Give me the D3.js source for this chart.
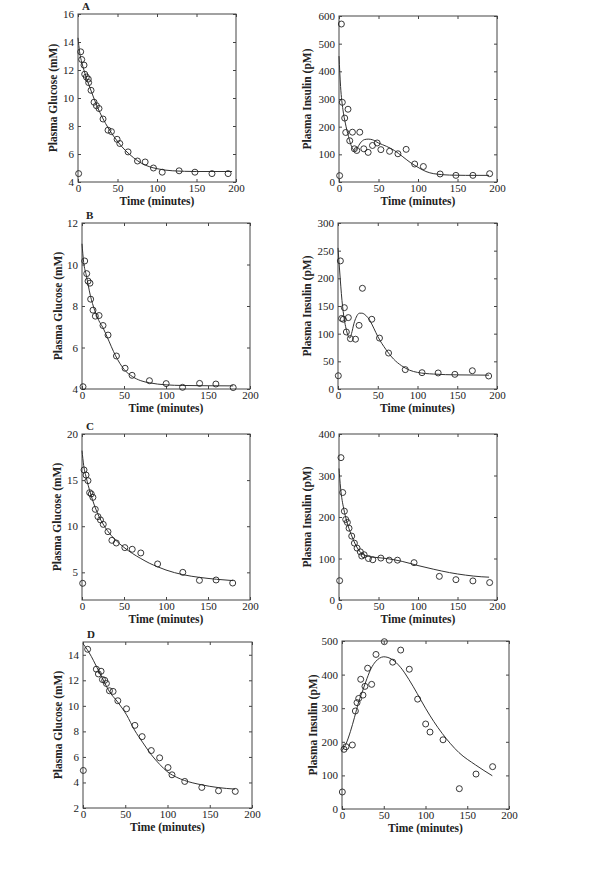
<!DOCTYPE html>
<html><head><meta charset="utf-8">
<script src="https://cdn.jsdelivr.net/npm/d3@7"></script>
<style>body{margin:0;background:#fff}svg{display:block}</style>
</head><body>
<svg id="c" width="600" height="878"></svg>
<script>
// ---- data: [time (min), value] ----
const timeTicks = [0, 50, 100, 150, 200];

const glucA_obs = [[0.8,4.6],[3.4,13.3],[4.7,12.75],[7.6,12.35],[8.5,11.7],[10.6,11.5],[13,11.35],[13.5,11.1],[16.5,10.55],[20.3,9.7],[23.3,9.45],[26.6,9.25],[31.7,8.5],[38,7.7],[42.3,7.6],[49.5,7.05],[52.9,6.75],[63.4,6.15],[75.3,5.5],[85,5.43],[95.5,5.0],[106.6,4.7],[128,4.8],[148,4.7],[169.6,4.6],[190,4.6]];
const glucA_fit = [[0,14.3],[2,13.3],[5,12.5],[10,11.55],[15,10.75],[20,10.0],[25,9.3],[30,8.7],[40,7.7],[50,6.9],[60,6.25],[70,5.75],[80,5.35],[90,5.1],[100,4.95],[120,4.8],[150,4.75],[195,4.75]];
const insA_obs = [[0.8,23],[3,571],[4.2,288],[7.2,231],[8.5,179],[11.4,263],[13.6,149],[17,180],[19.5,120],[22.5,114],[26.3,180],[31.4,120],[36.9,107],[42.4,132],[48.3,141],[53,117],[64,111],[74.6,102],[85,118],[95.8,65],[106.8,56],[128,29],[148,24],[169.5,24],[190.7,30]];
const insA_fit = [[0,455],[2,345],[5,261],[8,213],[12,165],[15,135],[18,117],[20,114],[23,123],[27,141],[32,153],[37,155],[42,153],[50,141],[60,129],[70,114],[80,93],[90,71],[100,53],[110,38],[120,30],[140,25],[160,24],[190,24]];

const glucB_obs = [[1.2,4.11],[3.2,10.17],[5.6,9.56],[7.2,9.2],[9.5,9.1],[10.3,8.33],[13.1,7.8],[15.9,7.51],[20.3,7.54],[25,7.06],[31,6.6],[41,5.59],[51.3,5.0],[59.6,4.66],[80.3,4.4],[100.2,4.26],[119.7,4.08],[140,4.27],[159.4,4.24],[180,4.07]];
const glucB_fit = [[0,11.0],[2,10.1],[5,9.5],[10,8.5],[15,7.8],[20,7.3],[25,6.95],[30,6.5],[40,5.6],[50,4.95],[60,4.6],[70,4.4],[80,4.3],[100,4.2],[120,4.17],[180,4.15]];
const insB_obs = [[0.4,24],[3,231.5],[4.6,127.5],[6.7,126],[8,147],[10.5,103],[13,129],[15.6,91],[22,90],[26.5,115],[30.7,182],[42.5,126],[52.2,92],[63.6,65],[84.6,35],[105.7,29.5],[126,29],[147,26.5],[169,33],[189.5,23.5]];
const insB_fit = [[0,255],[2,215],[5,160],[8,125],[10,110],[13,95],[15,92],[17,100],[20,118],[23,130],[27,137],[30,137],[35,133],[40,124],[45,110],[50,95],[60,72],[70,54],[80,42],[90,34],[100,30],[120,27],[150,25.5],[190,25]];

const glucC_obs = [[0.8,3.81],[2.4,16.1],[4.8,15.55],[7.1,14.94],[9.1,13.64],[11,13.5],[13,13.13],[15.8,11.83],[19,11.04],[22,10.68],[25.3,10.2],[30.9,9.41],[35.6,8.47],[40.8,8.18],[51,7.68],[59.8,7.5],[70,7.1],[90,5.91],[120,5.0],[139.8,4.13],[159.6,4.17],[179.4,3.84]];
const glucC_fit = [[0,18.2],[2,16.6],[5,15.3],[10,13.6],[15,12.2],[20,11.1],[25,10.25],[30,9.55],[40,8.5],[50,7.7],[60,7.05],[70,6.5],[80,6.0],[90,5.6],[100,5.25],[120,4.75],[140,4.45],[160,4.25],[180,4.1]];
const insC_obs = [[0.8,46.6],[2.5,343],[4.7,259],[6.8,214],[8.5,194],[10.6,187],[12.7,173],[16.1,154],[19.5,137],[22.9,125],[27,116],[28.8,106],[31.8,109],[37.3,100],[42.8,97],[53,101],[63.6,96],[74,96],[95,90],[127,57],[148,49],[169.5,46],[190.7,42]];
const insC_fit = [[0,317],[2,270],[4,240],[6,220],[10,188],[15,160],[20,137],[25,120],[30,110],[35,106],[40,104],[50,102],[60,100],[80,93],[100,83],[120,74],[140,66],[160,60],[180,56],[190,55]];

const glucD_obs = [[0.4,4.94],[5.5,14.43],[15.8,12.87],[18.2,12.5],[21.4,12.71],[23,12.06],[25.7,12.0],[27.7,11.75],[31.3,11.18],[35.6,11.13],[41.2,10.4],[51.5,9.77],[61.4,8.47],[70,7.59],[80.8,6.5],[90.7,5.93],[100.6,5.17],[105.3,4.6],[120.4,4.08],[140.6,3.61],[160.4,3.35],[180.2,3.3]];
const glucD_fit = [[0,14.87],[5,14.4],[10,13.85],[15,13.2],[20,12.55],[25,11.9],[30,11.25],[41,10.3],[51.5,9.3],[61,8.1],[71,7.1],[81,6.16],[91,5.4],[100.6,4.8],[111,4.4],[120,4.16],[140,3.82],[160,3.6],[180,3.48]];
const insD_obs = [[0.4,50.6],[2.4,177.6],[4.8,185.5],[12.4,190.5],[16,291.7],[18,316.5],[20,329],[22.4,386],[25.1,339],[27.5,365],[30.7,419],[35.5,371],[40.7,460],[50.7,498],[60.7,437],[70.3,473],[80.6,416],[90.6,327],[100.2,253],[105.4,229],[121,206],[140.5,60.5],[160.5,104],[180.4,126]];
const insD_fit = [[0,174],[5,195],[10,230],[15,273],[20,319],[25,354],[30,389],[35,419],[40,438],[45,449],[50,453],[55,451],[60,445],[70,422],[80,386],[90,344],[100,300],[110,260],[120,225],[140,168],[160,131],[180,99]];

const glucA_ticks = [4,6,8,10,12,14,16];
const insA_ticks = [0,100,200,300,400,500,600];
const glucB_ticks = [4,6,8,10,12];
const insB_ticks = [0,50,100,150,200,250,300];
const glucC_ticks = [5,10,15,20];
const insC_ticks = [0,100,200,300,400];
const glucD_ticks = [2,4,6,8,10,12,14];
const insD_ticks = [0,100,200,300,400,500];

const panelLetters = ["A","B","C","D"];
const glucoseLabel = "Plasma Glucose (mM)";
const insulinLabel = "Plasma Insulin (pM)";
const timeLabel = "Time (minutes)";

// ---- layout ----
const panels = [
  {x0:78,x1:236,y0:14,y1:182,dom:[4,16],ticks:glucA_ticks,obs:glucA_obs,fit:glucA_fit,label:glucoseLabel,lx:53,letter:0},
  {x0:339,x1:497,y0:16,y1:182,dom:[0,600],ticks:insA_ticks,obs:insA_obs,fit:insA_fit,label:insulinLabel,lx:307},
  {x0:82,x1:250,y0:223,y1:389,dom:[4,12],ticks:glucB_ticks,obs:glucB_obs,fit:glucB_fit,label:glucoseLabel,lx:58,letter:1},
  {x0:338,x1:497,y0:223,y1:389,dom:[0,300],ticks:insB_ticks,obs:insB_obs,fit:insB_fit,label:insulinLabel,lx:307},
  {x0:82,x1:250,y0:434,y1:600,dom:[2,20],ticks:glucC_ticks,obs:glucC_obs,fit:glucC_fit,label:glucoseLabel,lx:57,letter:2},
  {x0:339,x1:497,y0:434,y1:600,dom:[0,400],ticks:insC_ticks,obs:insC_obs,fit:insC_fit,label:insulinLabel,lx:307},
  {x0:83,x1:252,y0:642,y1:808,dom:[2,15],ticks:glucD_ticks,obs:glucD_obs,fit:glucD_fit,label:glucoseLabel,lx:58,letter:3},
  {x0:342,x1:509,y0:641,y1:809,dom:[0,500],ticks:insD_ticks,obs:insD_obs,fit:insD_fit,label:insulinLabel,lx:313}
];

const svg = d3.select("#c");
const font = "'Liberation Serif','Times New Roman',serif";
const ink = "#222";

panels.forEach(p => {
  const x = d3.scaleLinear().domain([0,200]).range([p.x0,p.x1]);
  const y = d3.scaleLinear().domain(p.dom).range([p.y1,p.y0]);
  const g = svg.append("g");
  const tl = 3;
  const ax = [
    [d3.axisBottom(x).tickValues(timeTicks).tickSizeInner(-tl).tickSizeOuter(0).tickPadding(2), `translate(0,${p.y1})`],
    [d3.axisTop(x).tickValues(timeTicks).tickSizeInner(-tl).tickSizeOuter(0).tickFormat(""), `translate(0,${p.y0})`],
    [d3.axisLeft(y).tickValues(p.ticks).tickSizeInner(-tl).tickSizeOuter(0).tickPadding(4), `translate(${p.x0},0)`],
    [d3.axisRight(y).tickValues(p.ticks).tickSizeInner(-tl).tickSizeOuter(0).tickFormat(""), `translate(${p.x1},0)`]
  ];
  ax.forEach(([a,tr]) => {
    const ag = g.append("g").attr("transform",tr).call(a);
    ag.select(".domain").remove();
    ag.selectAll("line").attr("stroke","#444");
    ag.selectAll("text").attr("font-family",font).attr("font-size",11).attr("fill",ink);
  });
  g.append("rect").attr("x",p.x0).attr("y",p.y0).attr("width",p.x1-p.x0).attr("height",p.y1-p.y0)
    .attr("fill","none").attr("stroke","#444").attr("stroke-width",1);

  const line = d3.line().x(d=>x(d[0])).y(d=>y(d[1])).curve(d3.curveMonotoneX);
  g.append("path").datum(p.fit).attr("d",line).attr("fill","none").attr("stroke","#333").attr("stroke-width",1);

  g.selectAll("circle.o").data(p.obs).join("circle").attr("class","o")
    .attr("cx",d=>x(d[0])).attr("cy",d=>y(d[1])).attr("r",3)
    .attr("fill","none").attr("stroke",ink).attr("stroke-width",0.9);

  g.append("text").attr("x",(p.x0+p.x1)/2).attr("y",p.y1+23).attr("text-anchor","middle")
    .attr("font-family",font).attr("font-weight","bold").attr("font-size",11.5).attr("fill",ink).text(timeLabel);
  g.append("text").attr("transform",`translate(${p.lx},${(p.y0+p.y1)/2}) rotate(-90)`).attr("text-anchor","middle")
    .attr("dy","0.35em").attr("font-family",font).attr("font-weight","bold").attr("font-size",11.5).attr("fill",ink).text(p.label);
  if (p.letter !== undefined) {
    g.append("text").attr("x",p.x0+4).attr("y",p.y0-4).attr("font-family",font).attr("font-weight","bold")
      .attr("font-size",11).attr("fill",ink).text(panelLetters[p.letter]);
  }
});
</script>
</body></html>
